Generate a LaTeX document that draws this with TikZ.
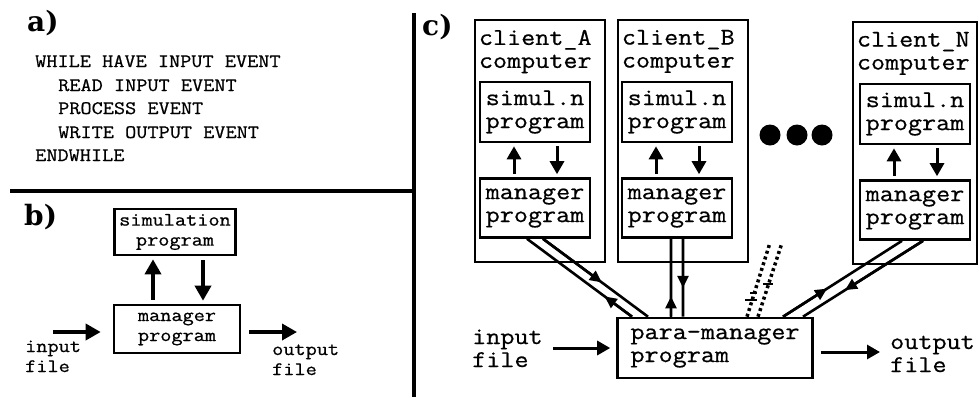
\documentclass[tikz,border=0pt]{standalone}
\usepackage{fontspec}
\setmonofont{Latin Modern Mono}[FakeStretch=1.14,FakeBold=0.7]
\newfontfamily\lblfont{DejaVu Serif}
\usetikzlibrary{arrows.meta,calc}

\begin{document}
\begin{tikzpicture}[x=1pt,y=-1pt,
  bx/.style={draw,line width=2.6pt,inner sep=0pt,align=center},
  tx/.style={font=\ttfamily\fontsize{24}{23}\selectfont,inner sep=0pt,align=left},
  txs/.style={font=\ttfamily\fontsize{19}{20}\selectfont,inner sep=0pt,align=left},
  lbl/.style={font=\lblfont\bfseries\fontsize{28}{28}\selectfont,inner sep=0pt,anchor=base west},
  arr/.style={line width=3pt,-{Triangle[length=13pt,width=14pt]}},
  arrb/.style={line width=3.5pt,-{Triangle[length=15pt,width=16pt]}},
  dbl/.style={line width=2.6pt},
  dbla/.style={line width=2.6pt,-{Triangle[length=12pt,width=11pt]}},
  dots/.style={line width=3.5pt,dash pattern=on 3pt off 3pt}]
\useasboundingbox (0,0) rectangle (979,397);
\draw[line width=4.5pt] (10,191) -- (414,191) (414,13) -- (414,397);
% a)
\node[lbl] (la) at (27,31) {a)};
\foreach \t/\x/\y [count=\i] in {WHILE HAVE INPUT EVENT/35/67,READ INPUT EVENT/58/91,
  PROCESS EVENT/58/114,WRITE OUTPUT EVENT/58/138,ENDWHILE/35/161}
  \node[txs,anchor=base west] (ln\i) at (\x,\y) {\t};
% b)
\node[lbl] (lb) at (24,225) {b)};
\node[txs,bx,minimum width=121pt,minimum height=46pt] (sim) at (175,232) {simulation\\program};
\node[txs,bx,minimum width=126pt,minimum height=48pt] (mgr) at (177,329) {manager\\program};
\coordinate (u) at ([xshift=-24pt]mgr.north);
\coordinate (d) at ([xshift=28pt]sim.south);
\draw[arrb,shorten <=4pt,shorten >=3pt] (u) -- (u |- sim.south);
\draw[arrb,shorten <=4pt,shorten >=3pt] (d) -- (d |- mgr.north);
\coordinate (ib) at (53,332);
\coordinate (ob) at (297,332);
\draw[arrb,shorten >=12pt] (ib) -- (ib -| mgr.west);
\draw[arrb,shorten <=8pt] (ob -| mgr.east) -- (ob);
\node[txs,anchor=base west] (inb) at (25,372) {input\\file};
\node[txs,anchor=base west] (outb) at (272,375) {output\\file};
% c)
\node[lbl] (lc) at (422,35) {c)};
\foreach \n/\x/\w/\y/\i in {A/540/130/141/535,B/683/130/141/677,N/915/124/143/915}{
  \node[bx,minimum width=\w pt,minimum height=242pt] (c\n) at (\x,\y) {};
  \node[tx,anchor=north west] (t\n) at ([xshift=5pt,yshift=-11pt]c\n.north west) {client\_\n\\computer};
  \node[tx,bx,minimum width=110pt,minimum height=60pt] (s\n) at (\i,\y-29) {simul.n\\program};
  \node[tx,bx,minimum width=110pt,minimum height=59pt] (m\n) at (\i,\y+67) {manager\\program};
  \draw[arr,shorten <=3pt,shorten >=3pt] ([xshift=-21pt]m\n.north) -- ([xshift=-21pt]s\n.south);
  \draw[arr,shorten <=3pt,shorten >=3pt] ([xshift=22pt]s\n.south) -- ([xshift=22pt]m\n.north);
}
\foreach \x in {770,797,822} \fill (\x,135) circle (10.5pt);
\node[tx,bx,align=left,minimum width=195pt,minimum height=60pt] (pm) at (715,348) {para-manager\\program};
\node[tx,anchor=base west] (inc) at (472,367) {input\\file};
\node[tx,anchor=base west] (outc) at (890,372) {output\\file};
\coordinate (ic) at (553,348);
\coordinate (oc) at (880,352);
\draw[arr,shorten >=6pt] (ic) -- (pm.west);
\draw[arr,shorten <=7pt] (oc -| pm.east) -- (oc);
\coordinate (a1) at ([xshift=-8pt]mA.south);
\coordinate (a2) at ([xshift=-83pt]pm.north);
\coordinate (a3) at ([xshift=8pt]mA.south);
\coordinate (a4) at ([xshift=-67pt]pm.north);
\coordinate (b1) at ([xshift=-6pt]mB.south);
\coordinate (b2) at ([xshift=-44pt]pm.north);
\coordinate (b3) at ([xshift=6pt]mB.south);
\coordinate (b4) at ([xshift=-32pt]pm.north);
\coordinate (n1) at ([xshift=-13pt]mN.south);
\coordinate (n2) at ([xshift=68pt]pm.north);
\coordinate (n3) at ([xshift=8pt]mN.south);
\coordinate (n4) at ([xshift=88pt]pm.north);
\draw[dbl] (a1) -- (a2) (a3) -- (a4) (b1) -- (b2) (b3) -- (b4) (n1) -- (n2) (n3) -- (n4);
\draw[dbla] (a2) -- ($(a2)!0.26!(a1)$);
\draw[dbla] (a3) -- ($(a3)!0.56!(a4)$);
\draw[dbla] (b2) -- ($(b2)!0.26!(b1)$);
\draw[dbla] (b3) -- ($(b3)!0.63!(b4)$);
\draw[dbla] (n2) -- ($(n2)!0.37!(n1)$);
\draw[dbla] (n3) -- ($(n3)!0.65!(n4)$);
\draw[dots] ([xshift=32pt]pm.north) -- ++(23,-74);
\draw[dots] ([xshift=43pt]pm.north) -- ++(24,-74);
\draw[line width=2.5pt] (745,300) -- (757,300) (750,293) -- (757,293) (763,284) -- (773,284);
\end{tikzpicture}
\end{document}
